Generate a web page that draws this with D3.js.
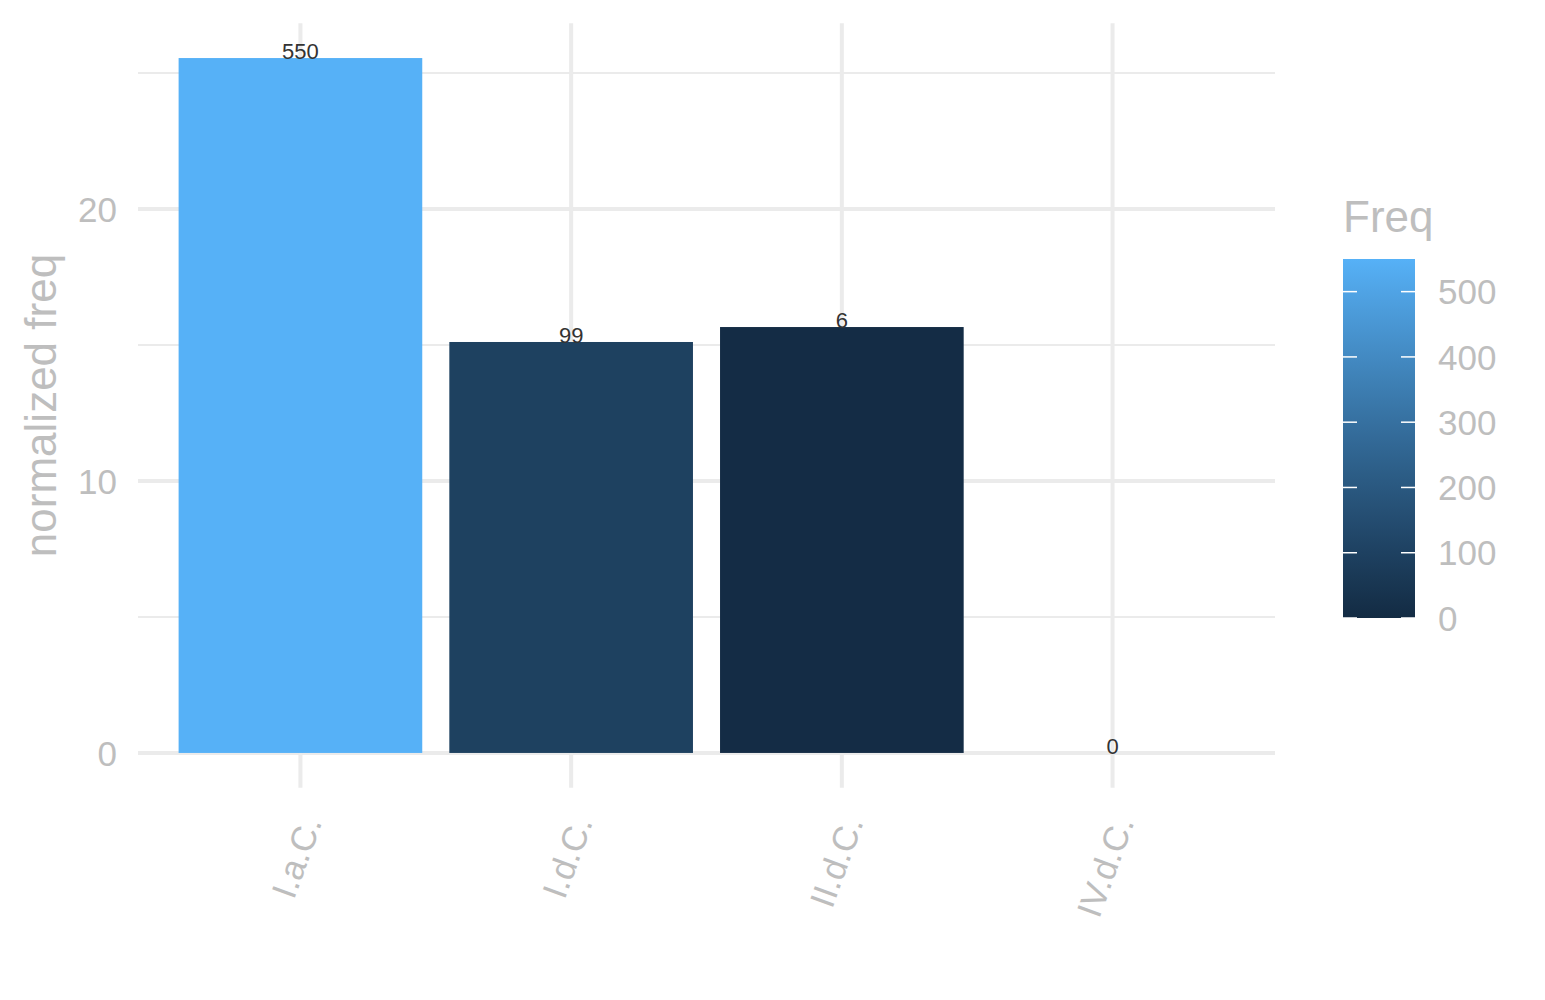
<!DOCTYPE html>
<html>
<head>
<meta charset="utf-8">
<script src="https://cdn.jsdelivr.net/npm/d3@7"></script>
<style>
  body { margin: 0; background: #fff; }
  text { font-family: "Liberation Sans", Arial, Helvetica, sans-serif; }
</style>
</head>
<body>
<svg id="chart" width="1545" height="1000"></svg>
<script>
// data
var categories = ["I.a.C.", "I.d.C.", "II.d.C.", "IV.d.C."];
var normFreq = [25.55, 15.11, 15.66, 0];
var freq = [550, 99, 6, 0];
var yTicks = [0, 10, 20];
var yMinor = [5, 15, 25];
var legendTicks = [0, 100, 200, 300, 400, 500];

var svg = d3.select("#chart");
var grey = "#BEBEBE", grid = "#EBEBEB";

var left = 138, right = 1275;
var maxV = d3.max(normFreq);
var y = d3.scaleLinear()
    .domain([-0.05 * maxV, maxV * 1.05])
    .range([787.7, 23.3]);

var x = d3.scaleBand()
    .domain(categories)
    .range([left, right])
    .paddingInner(0.1)
    .paddingOuter(0.15);

var fill = d3.scaleLinear()
    .domain([0, d3.max(freq)])
    .range(["#132B43", "#56B1F7"])
    .interpolate(d3.interpolateLab);

// grid
svg.append("g").selectAll("line").data(yMinor).join("line")
    .attr("x1", left).attr("x2", right)
    .attr("y1", d => y(d)).attr("y2", d => y(d))
    .style("stroke", grid).style("stroke-width", 2);
svg.append("g").selectAll("line").data(yTicks).join("line")
    .attr("x1", left).attr("x2", right)
    .attr("y1", d => y(d)).attr("y2", d => y(d))
    .style("stroke", grid).style("stroke-width", 4);
svg.append("g").selectAll("line").data(categories).join("line")
    .attr("x1", d => x(d) + x.bandwidth() / 2).attr("x2", d => x(d) + x.bandwidth() / 2)
    .attr("y1", y.range()[0]).attr("y2", y.range()[1])
    .style("stroke", grid).style("stroke-width", 4);

// bars
var rows = categories.map((c, i) => ({cat: c, v: normFreq[i], f: freq[i]}));
svg.append("g").selectAll("rect").data(rows).join("rect")
    .attr("x", d => x(d.cat))
    .attr("width", x.bandwidth())
    .attr("y", d => y(d.v))
    .attr("height", d => y(0) - y(d.v))
    .style("fill", d => fill(d.f));

svg.append("g").selectAll("text").data(rows).join("text")
    .attr("x", d => x(d.cat) + x.bandwidth() / 2)
    .attr("y", d => y(d.v) + 1)
    .attr("text-anchor", "middle")
    .style("font-size", "22px")
    .style("fill", "#333333")
    .text(d => d.f);

// y axis labels
svg.append("g").selectAll("text").data(yTicks).join("text")
    .attr("x", 117).attr("y", d => y(d))
    .attr("dy", "0.36em")
    .attr("text-anchor", "end")
    .style("font-size", "35px").style("fill", grey)
    .text(d => d);

svg.append("text")
    .attr("transform", "translate(56," + (y.range()[0] + y.range()[1]) / 2 + ") rotate(-90)")
    .attr("text-anchor", "middle")
    .style("font-size", "44px").style("fill", grey)
    .text("normalized freq");

// x axis labels
svg.append("g").selectAll("text").data(categories).join("text")
    .attr("transform", d => "translate(" + (x(d) + x.bandwidth() / 2 + 22) + ",822) rotate(-70)")
    .attr("text-anchor", "end")
    .style("font-size", "35px").style("fill", grey)
    .text(d => d);

// legend
var lg = svg.append("g");
var bar = {x: 1343, w: 72};
var ly = d3.scaleLinear().domain([0, 550]).range([618, 259]);

var defs = svg.append("defs");
var grad = defs.append("linearGradient").attr("id", "fgrad")
    .attr("x1", 0).attr("y1", 1).attr("x2", 0).attr("y2", 0);
grad.selectAll("stop").data(d3.range(0, 1.0001, 0.1)).join("stop")
    .attr("offset", d => d)
    .attr("stop-color", d => fill(d * 550));

lg.append("text").attr("x", 1343).attr("y", 232)
    .style("font-size", "44px").style("fill", grey).text("Freq");

lg.append("rect")
    .attr("x", bar.x).attr("y", ly(550))
    .attr("width", bar.w).attr("height", ly(0) - ly(550))
    .style("fill", "url(#fgrad)");

lg.selectAll("line.l").data(legendTicks).join("line").attr("class", "l")
    .attr("x1", bar.x).attr("x2", bar.x + 14)
    .attr("y1", d => ly(d)).attr("y2", d => ly(d))
    .style("stroke", "white").style("stroke-width", 1.5);
lg.selectAll("line.r").data(legendTicks).join("line").attr("class", "r")
    .attr("x1", bar.x + bar.w - 14).attr("x2", bar.x + bar.w)
    .attr("y1", d => ly(d)).attr("y2", d => ly(d))
    .style("stroke", "white").style("stroke-width", 1.5);

lg.selectAll("text.t").data(legendTicks).join("text").attr("class", "t")
    .attr("x", 1438).attr("y", d => ly(d))
    .attr("dy", "0.36em")
    .style("font-size", "35px").style("fill", grey)
    .text(d => d);
</script>
</body>
</html>
